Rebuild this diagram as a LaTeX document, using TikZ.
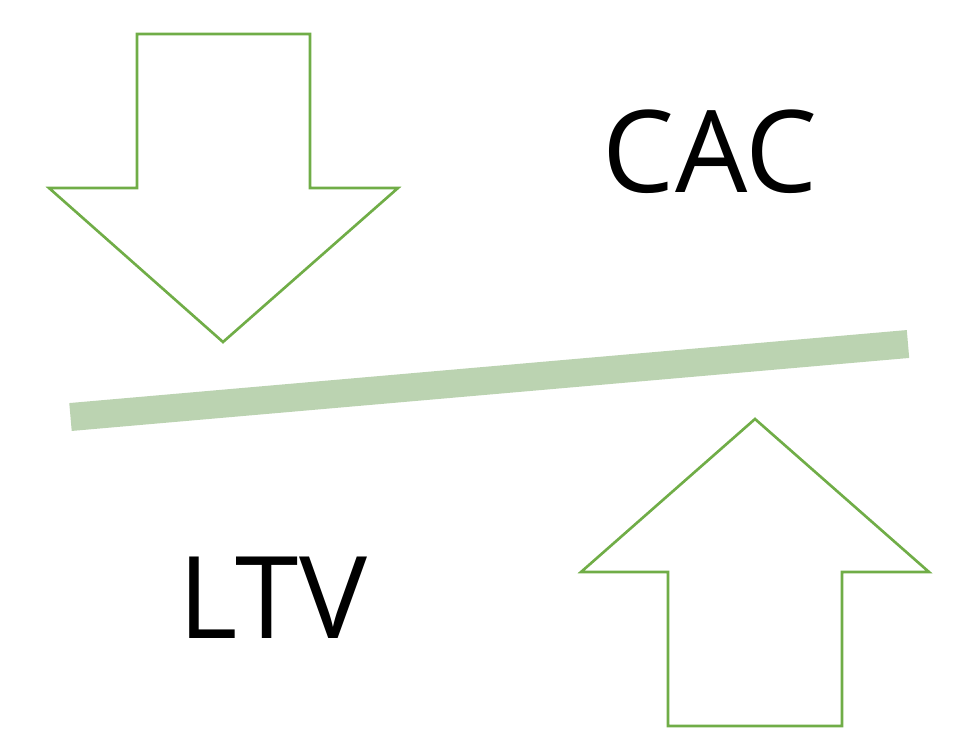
\documentclass[tikz,border=0pt]{standalone}
\usepackage{fontspec}
\setmainfont{Open Sans}
\usetikzlibrary{calc}
\definecolor{agreen}{HTML}{70AD47}
\definecolor{bgreen}{HTML}{BBD3B1}
\tikzset{
  bigarrow/.style={draw=agreen,line width=1.5pt,line join=miter,fill=white},
  beam/.style={draw=bgreen,line width=28*0.02cm,line cap=butt},
  word/.style={font=\fontsize{65}{65}\selectfont,text=black,inner sep=0pt,anchor=base},
}
\begin{document}
\begin{tikzpicture}[x=0.02cm,y=-0.02cm]
  \useasboundingbox (0,0) rectangle (974,747);
  % arrow pushing down
  \draw[bigarrow] (137,34) -- (310,34) -- (310,188) -- (398,188) -- (223,342) -- (49,188) -- (137,188) -- cycle;
  % arrow pushing up
  \draw[bigarrow] (755,419) -- (929,572) -- (842,572) -- (842,726) -- (668,726) -- (668,572) -- (581,572) -- cycle;
  % the tilted beam
  \coordinate (bl) at (70.5,417);
  \coordinate (br) at (908,344);
  \draw[beam] (bl) -- (br);
  \node[word] (cac) at (710,192) {CAC};
  \node[word] (ltv) at (273,638) {LTV};
\end{tikzpicture}
\end{document}
